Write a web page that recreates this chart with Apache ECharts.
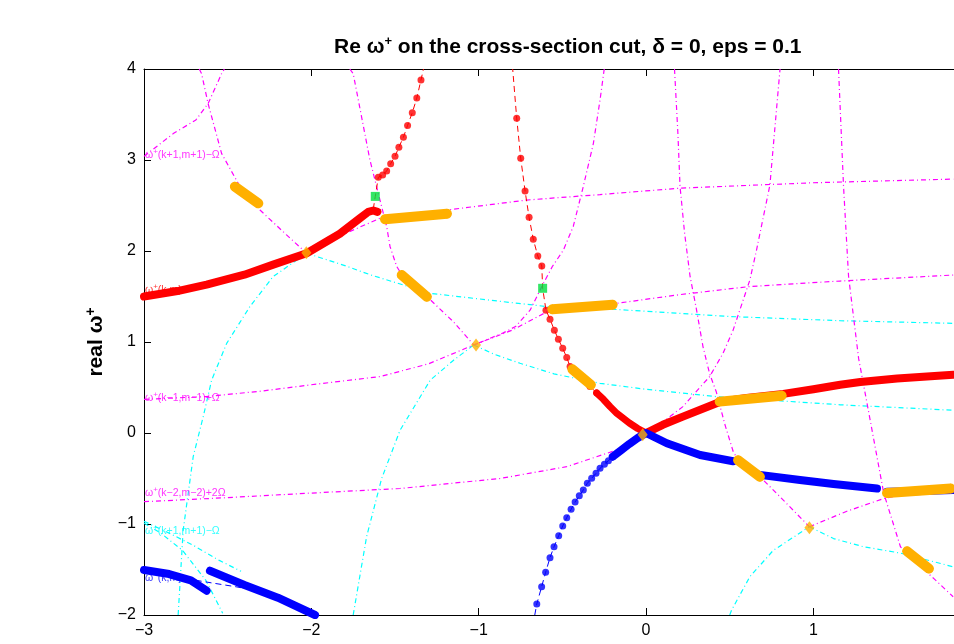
<!DOCTYPE html>
<html><head><meta charset="utf-8">
<script src="https://cdn.jsdelivr.net/npm/echarts@6/dist/echarts.min.js"></script>
<style>html,body{margin:0;padding:0;background:#fff}#c{width:954px;height:644px}</style>
</head><body><div id="c"></div>
<script>
// ---- axis setup ----
const xRange = [-3, 1.84];
const yRange = [-2, 4];
const xTickStep = 1, yTickStep = 1;

// ---- main eigen-branches (thick / dotted) ----
const redLeft = [[-3.0,1.50],[-2.8,1.56],[-2.626,1.63],[-2.4,1.74],[-2.228,1.85],[-2.028,1.975],[-1.83,2.19],[-1.71,2.36],[-1.66,2.43],[-1.63,2.445],[-1.605,2.43]];
const redUpperLeftDots = [[-1.6,2.81],[-1.574,2.835],[-1.55,2.88],[-1.526,2.96],[-1.5,3.04],[-1.477,3.14],[-1.45,3.25],[-1.425,3.38],[-1.397,3.52],[-1.37,3.68],[-1.345,3.88]];
const redUpperLeftEnds = [[-1.63,2.46],[-1.618,2.6],[-1.33,4.0]];
const redMidDots = [[-0.773,3.46],[-0.749,3.02],[-0.723,2.66],[-0.699,2.37],[-0.674,2.13],[-0.647,1.945],[-0.623,1.835],[-0.598,1.35],[-0.574,1.25],[-0.548,1.13],[-0.524,1.03],[-0.498,0.93],[-0.474,0.83],[-0.454,0.73],[-0.39,0.62],[-0.335,0.51],[-0.295,0.44]];
const redMidEnds = [[-0.797,4.0],[-0.618,1.59]];
const redMidThick = [[-0.295,0.44],[-0.255,0.37],[-0.215,0.29],[-0.175,0.216],[-0.1,0.11],[-0.05,0.05],[0,0]];
const redRight = [[0,0],[0.1,0.09],[0.22,0.18],[0.44,0.34],[0.6,0.385],[0.82,0.43],[1.0,0.48],[1.16,0.53],[1.28,0.56],[1.5,0.60],[1.835,0.64]];

const blueDots = [[-0.653,-1.879],[-0.624,-1.689],[-0.6,-1.53],[-0.574,-1.37],[-0.55,-1.25],[-0.522,-1.128],[-0.498,-1.022],[-0.474,-0.93],[-0.448,-0.839],[-0.424,-0.758],[-0.399,-0.689],[-0.375,-0.626],[-0.351,-0.553],[-0.325,-0.498],[-0.299,-0.443],[-0.275,-0.388],[-0.249,-0.344],[-0.225,-0.304],[-0.199,-0.26]];
const blueDotsEnd = [[-0.665,-2.0]];
const blueThick1 = [[-0.199,-0.26],[-0.15,-0.19],[-0.1,-0.12],[-0.05,-0.055],[0,0],[0.124,-0.113],[0.323,-0.242],[0.52,-0.31]];
const blueThick2 = [[0.68,-0.46],[0.92,-0.516],[1.12,-0.56],[1.38,-0.61]];
const blueThick3 = [[1.44,-0.645],[1.6,-0.64],[1.835,-0.626]];
const blueLL1 = [[-3.0,-1.505],[-2.85,-1.55],[-2.72,-1.62],[-2.626,-1.733]];
const blueLL2 = [[-2.606,-1.513],[-2.4,-1.67],[-2.2,-1.81],[-1.978,-2.0]];
const blueThin = [[-2.75,-1.60],[-2.62,-1.64],[-2.45,-1.69],[-2.3,-1.74]];

// ---- highlighted (orange) segments and points, green squares ----
const orangeSegs = [
  [[-2.457,2.707],[-2.317,2.524]],
  [[-1.56,2.35],[-1.19,2.41]],
  [[-1.46,1.736],[-1.31,1.498]],
  [[-0.56,1.36],[-0.2,1.41]],
  [[-0.44,0.70],[-0.33,0.53]],
  [[0.44,0.345],[0.81,0.41]],
  [[0.55,-0.30],[0.68,-0.48]],
  [[1.44,-0.66],[1.82,-0.61]],
  [[1.56,-1.30],[1.69,-1.49]]
];
const orangePts = [[-2.03,1.98],[-1.016,0.967],[-0.02,-0.02],[0.976,-1.04]];
const greenPts = [[-1.618,2.6],[-0.618,1.59]];

// ---- shifted branches (thin dash-dot) ----
const magD1 = [[-2.67,4.0],[-2.656,3.95],[-2.617,3.62],[-2.536,3.07],[-2.427,2.71],[-2.307,2.45],[-2.15,2.18],[-2.028,1.975]];
const cyanC1 = [[-2.028,1.975],[-1.8,1.84],[-1.65,1.74],[-1.29,1.535],[-0.853,1.443],[-0.594,1.39],[-0.2,1.36],[0.5,1.28],[1.16,1.234],[1.835,1.205]];
const cyanC2 = [[-2.796,-2.0],[-2.766,-1.07],[-2.706,-0.26],[-2.646,0.18],[-2.596,0.58],[-2.506,0.985],[-2.367,1.39],[-2.228,1.72],[-2.028,1.975]];
const magH1 = [[-2.028,1.975],[-1.8,2.19],[-1.59,2.36],[-1.19,2.45],[-0.713,2.56],[-0.275,2.62],[0.2,2.69],[1.0,2.75],[1.835,2.79]];
const magM2 = [[-3.0,3.04],[-2.825,3.29],[-2.69,3.44],[-2.617,3.62],[-2.536,3.95],[-2.52,4.0]];
const magD2 = [[-1.77,4.0],[-1.75,3.95],[-1.65,3.0],[-1.59,2.56],[-1.55,2.27],[-1.53,2.05],[-1.49,1.83],[-1.46,1.74],[-1.31,1.50],[-1.15,1.22],[-1.03,0.967]];
const cyanC3 = [[-1.03,0.967],[-0.9,0.86],[-0.753,0.766],[-0.55,0.65],[-0.275,0.546],[0.0,0.48],[0.42,0.40],[1.16,0.31],[1.835,0.25]];
const cyanC4 = [[-1.75,-2.0],[-1.67,-1.14],[-1.58,-0.5],[-1.47,0.03],[-1.29,0.58],[-1.15,0.8],[-1.03,0.967]];
const magH2 = [[-3.0,0.37],[-2.63,0.40],[-2.3,0.46],[-2.0,0.53],[-1.59,0.62],[-1.3,0.76],[-1.03,0.967],[-0.8,1.13],[-0.594,1.33],[-0.45,1.37],[-0.175,1.425],[0.2,1.52],[0.62,1.61],[1.16,1.67],[1.835,1.736]];
const magS1 = [[-0.25,4.0],[-0.255,3.99],[-0.275,3.66],[-0.315,3.18],[-0.375,2.71],[-0.435,2.27],[-0.494,2.01],[-0.56,1.83],[-0.62,1.62],[-0.693,1.35],[-0.78,1.17],[-0.853,1.10],[-1.03,0.967]];
const magH3 = [[-3.0,-0.755],[-2.5,-0.71],[-2.0,-0.66],[-1.47,-0.61],[-0.873,-0.50],[-0.474,-0.37],[-0.175,-0.187],[-0.026,-0.04],[0,0],[0.1,0.12],[0.22,0.29],[0.38,0.62],[0.46,0.876],[0.52,1.13],[0.62,1.68],[0.66,2.01],[0.74,2.725],[0.80,3.99],[0.801,4.0]];
const magS2 = [[0.17,4.0],[0.173,3.98],[0.19,3.3],[0.203,2.71],[0.23,2.2],[0.263,1.72],[0.30,1.37],[0.34,0.95],[0.38,0.65],[0.42,0.45],[0.47,0.10],[0.52,-0.20],[0.55,-0.30],[0.615,-0.39],[0.68,-0.48],[0.80,-0.70],[0.976,-1.03]];
const cyanC5 = [[0.976,-1.03],[1.12,-1.16],[1.3,-1.25],[1.52,-1.32],[1.835,-1.47]];
const cyanC6 = [[0.50,-2.0],[0.51,-1.95],[0.62,-1.58],[0.76,-1.29],[0.976,-1.03]];
const magAfter = [[0.976,-1.03],[1.2,-0.86],[1.42,-0.72],[1.6,-0.655],[1.835,-0.61]];
const magS3 = [[1.15,4.0],[1.155,3.99],[1.18,2.71],[1.21,1.72],[1.27,0.82],[1.32,0.33],[1.42,-0.66],[1.52,-1.25],[1.60,-1.40],[1.72,-1.60],[1.835,-1.80]];
const cyanLL1 = [[-3.0,-0.99],[-2.9,-1.1],[-2.77,-1.29],[-2.63,-1.62],[-2.53,-1.98]];
const cyanLL2 = [[-3.0,-0.97],[-2.85,-1.1],[-2.7,-1.24],[-2.55,-1.4],[-2.42,-1.52]];

// ---- curve labels along left edge ----
const labelNames = ['ω{s|+}(k+1,m+1)−Ω','ω{s|+}(k,m)','ω{s|+}(k−1,m−1)+Ω','ω{s|+}(k−2,m−2)+2Ω','ω{s|+}(k+1,m+1)−Ω','ω{s|+}(k,m)'];
const labelY = [3.05, 1.57, 0.385, -0.66, -1.08, -1.59];
const labelColors = ['#ff00ff','#ff0000','#ff00ff','#ff00ff','#00ffff','#0000ff'];

const titleText = 'Re ω{s|+} on the cross-section cut, δ = 0, eps = 0.1';
const yName = 'real ω{s|+}';
const xName = 'k (real part)';

const MAG = '#ff00ff', CYA = '#00ffff', RED = '#ff0000', BLU = '#0000ff', ORA = '#ffb000', GRN = '#00e040';
const FONT = 'Liberation Sans, Arial, Helvetica, sans-serif';
const DASHDOT = [5, 3, 1, 3];

function thin(data, color, z) {
  return {type:'line', data, symbol:'none', showSymbol:false, silent:true, z: z||2,
    lineStyle:{color, width:1.2, type:DASHDOT}};
}
function thick(data, color, w) {
  return {type:'line', data, symbol:'none', showSymbol:false, silent:true, z:5,
    lineStyle:{color, width:w||8, cap:'round', join:'round'}};
}
function dashed(data, color) {
  return {type:'line', data, symbol:'none', showSymbol:false, silent:true, z:4,
    lineStyle:{color, width:1, type:[6,4]}};
}
function dots(data, color) {
  return {type:'scatter', data, symbol:'circle', symbolSize:7, silent:true, z:6,
    itemStyle:{color}};
}
const sortByY = a => a.slice().sort((p,q)=>p[1]-q[1]);

const series = [
  thin(magD1, MAG), thin(cyanC1, CYA), thin(cyanC2, CYA), thin(magH1, MAG), thin(magM2, MAG),
  thin(magD2, MAG), thin(cyanC3, CYA), thin(cyanC4, CYA), thin(magH2, MAG), thin(magS1, MAG),
  thin(magH3, MAG), thin(magS2, MAG), thin(cyanC5, CYA), thin(cyanC6, CYA), thin(magAfter, MAG),
  thin(magS3, MAG), thin(cyanLL1, CYA), thin(cyanLL2, CYA),
  dashed(blueThin, BLU),
  thick(redLeft, RED, 8),
  dashed(sortByY([...redUpperLeftEnds, ...redUpperLeftDots]), RED), dots(redUpperLeftDots, RED),
  dashed(sortByY([...redMidEnds, ...redMidDots]), RED), dots(redMidDots, RED),
  thick(redMidThick, RED, 7), thick(redRight, RED, 8),
  dashed(sortByY([...blueDotsEnd, ...blueDots]), BLU), dots(blueDots, BLU),
  thick(blueThick1, BLU, 8), thick(blueThick2, BLU, 8), thick(blueThick3, BLU, 8),
  thick(blueLL1, BLU, 8), thick(blueLL2, BLU, 8)
];
orangeSegs.forEach(s => series.push({type:'line', data:s, symbol:'diamond', symbolSize:10, showSymbol:true,
  silent:true, z:8, itemStyle:{color:ORA}, lineStyle:{color:ORA, width:10, cap:'round'}}));
series.push({type:'scatter', data:orangePts, symbol:'diamond', symbolSize:[10,13], z:8, silent:true, itemStyle:{color:ORA}});
series.push({type:'scatter', data:greenPts, symbol:'rect', symbolSize:9, z:9, silent:true, itemStyle:{color:GRN}});
series.push({type:'scatter', silent:true, z:7, symbolSize:0,
  data: labelY.map((y,i)=>({value:[xRange[0], y], label:{color:labelColors[i], formatter:labelNames[i],
    rich:{s:{fontSize:8, color:labelColors[i], padding:[0,0,7,0], fontFamily:FONT}}}})),
  label:{show:true, position:'right', distance:1, fontSize:10.5, fontFamily:FONT}});

const chart = echarts.init(document.getElementById('c'), null, {renderer:'canvas'});
const tickFmt = v => (v < 0 ? '−' + Math.abs(v) : String(v));
chart.setOption({
  animation:false,
  backgroundColor:'#fff',
  title:{text:titleText, left:329, top:30, textStyle:{fontSize:21, fontWeight:'bold', color:'#000', fontFamily:FONT,
    rich:{s:{fontSize:13, fontWeight:'bold', color:'#000', padding:[0,0,11,0], fontFamily:FONT}}}},
  grid:{left:144, right:0, top:69, bottom:29, containLabel:false, outerBoundsMode:'none'},
  xAxis:[
    {type:'value', min:xRange[0], max:xRange[1], interval:xTickStep, position:'bottom',
     name:xName, nameLocation:'middle', nameGap:33,
     nameTextStyle:{fontSize:21, fontWeight:'bold', color:'#000', fontFamily:FONT},
     axisLine:{show:true, onZero:false, lineStyle:{color:'#000', width:1}},
     axisTick:{show:true, inside:true, length:7, lineStyle:{color:'#000'}},
     axisLabel:{show:true, color:'#000', fontSize:16, fontFamily:FONT, margin:8, formatter:tickFmt, showMaxLabel:false},
     splitLine:{show:false}},
    {type:'value', min:xRange[0], max:xRange[1], interval:xTickStep, position:'top',
     axisLine:{show:true, onZero:false, lineStyle:{color:'#000', width:1}},
     axisTick:{show:true, inside:true, length:7, lineStyle:{color:'#000'}},
     axisLabel:{show:false}, splitLine:{show:false}}
  ],
  yAxis:[{type:'value', min:yRange[0], max:yRange[1], interval:yTickStep,
     name:yName, nameLocation:'middle', nameGap:34, nameRotate:90,
     nameTextStyle:{fontSize:21, fontWeight:'bold', color:'#000', fontFamily:FONT,
       rich:{s:{fontSize:14, fontWeight:'bold', color:'#000', padding:[0,0,11,0], fontFamily:FONT}}},
     axisLine:{show:true, onZero:false, lineStyle:{color:'#000', width:1}},
     axisTick:{show:true, inside:true, length:7, lineStyle:{color:'#000'}},
     axisLabel:{show:true, color:'#000', fontSize:16, fontFamily:FONT, margin:8, formatter:tickFmt},
     splitLine:{show:false}}],
  series: series.map(s => Object.assign({xAxisIndex:0, yAxisIndex:0, animation:false}, s))
});
</script></body></html>
